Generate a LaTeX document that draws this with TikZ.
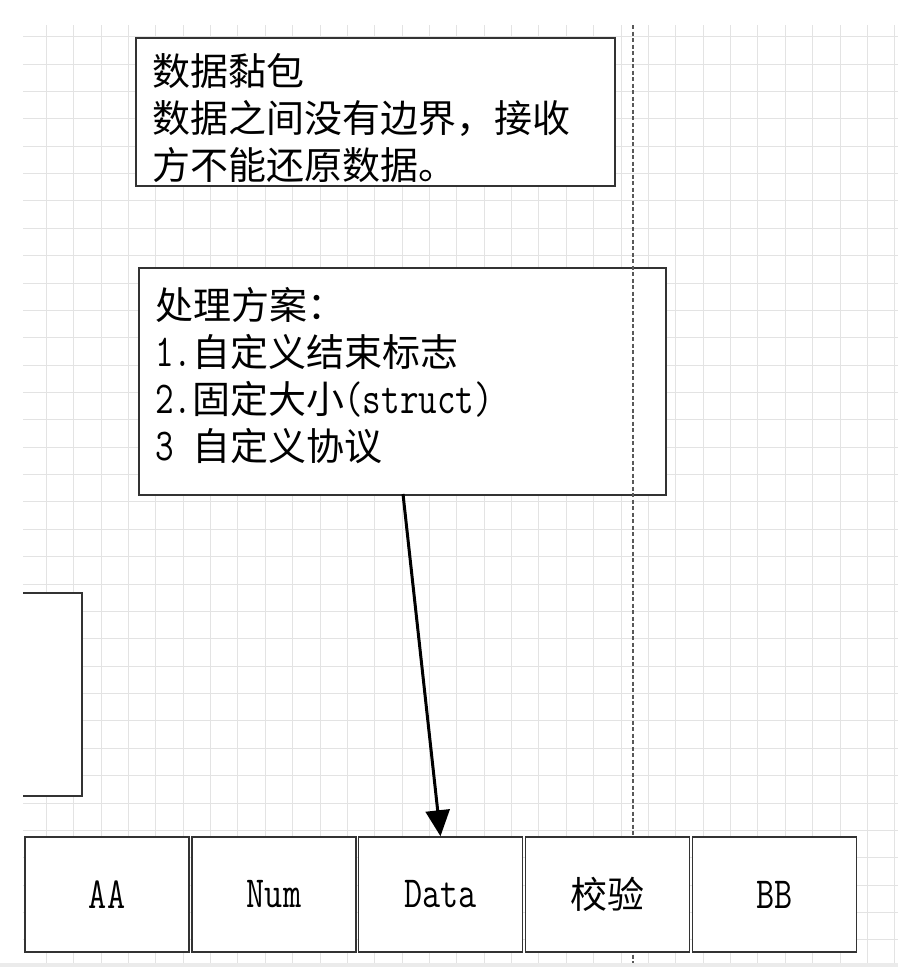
\documentclass[tikz,border=0pt]{standalone}
\usepackage{fontspec}
\setmainfont{Noto Sans CJK SC}
\usepackage{graphicx}
\usetikzlibrary{arrows.meta}
\newcommand\latn[1]{\scalebox{0.95}[1.2]{\ttfamily #1}}
\tikzset{
  gridline/.style={draw=black!11, line width=1pt},
  boxline/.style={draw=black!80, line width=1.5pt, fill=white},
  notetext/.style={anchor=north west, inner sep=0pt, align=left, font=\fontsize{38}{47}\selectfont},
  cellbox/.style={boxline, minimum width=164pt, minimum height=115pt, inner sep=0pt, font=\fontsize{37}{44}\selectfont},
  bigarrow/.style={draw=black, line width=3pt, -{Triangle[width=24pt,length=26pt]}},
  sepline/.style={draw=black!65, line width=1.3pt, dash pattern=on 4pt off 2.5pt}
}
\begin{document}
\begin{tikzpicture}[x=1pt,y=-1pt]
\useasboundingbox (0,0) rectangle (898,967);
\fill[white] (0,0) rectangle (898,967);
\fill[black!8] (0,963) rectangle (898,967);
% grid
\begin{scope}
\clip (23,25) rectangle (898,963.5);
\foreach \i in {0,...,32} \draw[gridline] ({46.3+27.37*\i},25) -- ({46.3+27.37*\i},963);
\foreach \j in {0,...,34} \draw[gridline] (23,{36.7+27.37*\j}) -- (898,{36.7+27.37*\j});
\end{scope}
% top note
\node[boxline, anchor=north west, minimum width=479pt, minimum height=148pt, inner sep=0pt] (note1) at (135,37) {};
\node[notetext] (note1text) at (152,53) {数据黏包\\数据之间没有边界，接收\\方不能还原数据。};
% left partial box
\coordinate (lb1) at (23,593);
\coordinate (lb2) at (82,593);
\coordinate (lb3) at (82,796);
\coordinate (lb4) at (23,796);
\fill[white] (lb1) rectangle (lb3);
\draw[draw=black!80, line width=1.5pt] (lb1) -- (lb2) -- (lb3) -- (lb4);
% solution box
\node[boxline, anchor=north west, minimum width=527pt, minimum height=227pt, inner sep=0pt] (note2) at (138,267) {};
\node[notetext] (note2text) at (155,287) {处理方案：\\\latn{1.}自定义结束标志\\\latn{2.}固定大小\latn{(struct)}\\\latn{3 }自定义协议};
% dashed separator
\coordinate (sepTop) at (633,25);
\coordinate (sepBot) at (633,963);
\draw[sepline] (sepTop) -- (sepBot);
% cells
\node[cellbox] (aa) at (107,894.5) {\latn{AA}};
\node[cellbox] (num) at (274,894.5) {\latn{Num}};
\node[cellbox] (data) at (440.5,894.5) {\latn{Data}};
\node[cellbox] (chk) at (607.5,894.5) {校验};
\node[cellbox] (bb) at (774.5,894.5) {\latn{BB}};
% arrow
\coordinate (astart) at (403,494);
\draw[bigarrow] (astart) -- (data.north);
\end{tikzpicture}
\end{document}
